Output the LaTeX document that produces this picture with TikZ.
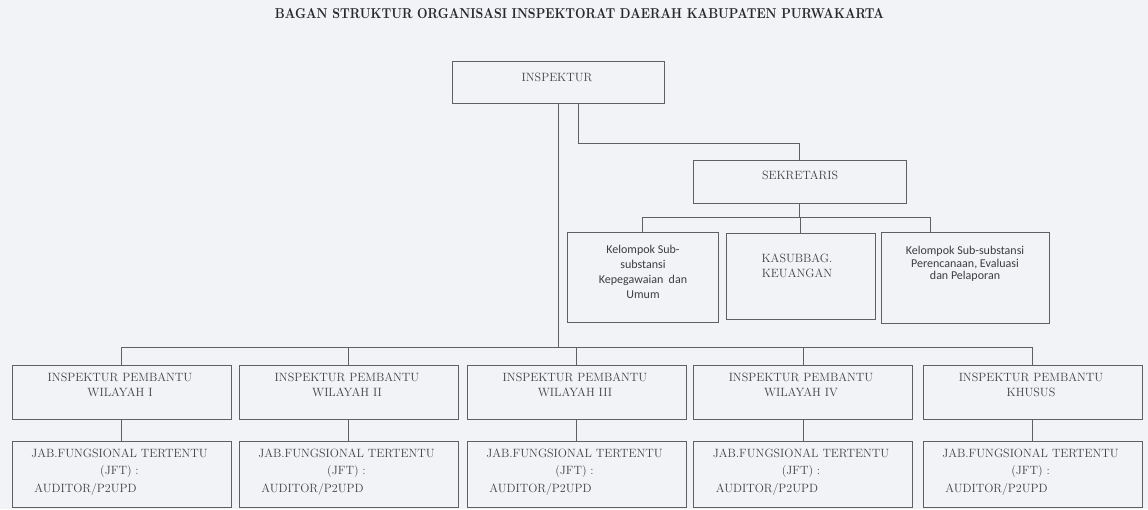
\documentclass[tikz,border=0pt]{standalone}
\usepackage{fontspec}
\usepackage{calc}
\usepackage{graphicx}
\newfontfamily\calib{Carlito}
\definecolor{bg}{RGB}{242,243,247}
\definecolor{ln}{RGB}{95,95,100}
\definecolor{tx}{RGB}{65,65,70}
\definecolor{tk}{RGB}{60,60,65}
\definecolor{tt}{RGB}{40,40,45}
\tikzset{
  box/.style={draw=ln, line width=0.9pt, fill=bg, inner sep=0pt, anchor=center},
  conn/.style={draw=ln, line width=0.9pt},
  lbl/.style={text=tx, font=\fontsize{12}{15}\selectfont, align=center, inner sep=0pt},
  lblj/.style={text=tx, font=\fontsize{12}{17.5}\selectfont, align=center, inner sep=0pt},
  lblk/.style={text=tk, font=\calib\fontsize{12}{15}\selectfont, align=center, inner sep=0pt},
  rowa/.style={box, minimum width=219pt, minimum height=54pt},
  rowb/.style={box, minimum width=219pt, minimum height=66pt}
}
\newcommand{\jftlabel}{JAB.FUNGSIONAL TERTENTU\\(JFT) :\\\makebox[\widthof{JAB.FUNGSIONAL TERTENTU}][l]{\hspace{3pt}AUDITOR/P2UPD}}
\begin{document}
\begin{tikzpicture}[x=1pt, y=-1pt]
\fill[bg] (0,0) rectangle (1148,509);
\useasboundingbox (0,0) rectangle (1148,509);

% title
\node[anchor=base, inner sep=0pt, text=tt] (title) at (579.5,18)
  {\resizebox{609pt}{10pt}{\bfseries BAGAN STRUKTUR ORGANISASI INSPEKTORAT DAERAH KABUPATEN PURWAKARTA}};

% top boxes
\node[box, minimum width=212pt, minimum height=42pt] (insp) at (558,82) {};
\node[lbl] (tinsp) at (557,77) {INSPEKTUR};
\node[box, minimum width=213pt, minimum height=43pt] (sek) at (799.5,181.5) {};
\node[lbl] (tsek) at (800,175) {SEKRETARIS};

% sub boxes
\node[box, minimum width=151pt, minimum height=90pt] (k1) at (642.5,277) {};
\node[lblk] (tk1) at (643,272) {Kelompok Sub-\\substansi\\Kepegawaian \ dan\\Umum};
\node[box, minimum width=149pt, minimum height=86pt] (k2) at (800.5,276) {};
\node[lbl] (tk2) at (797,265.5) {KASUBBAG.\\KEUANGAN};
\node[box, minimum width=168pt, minimum height=91pt] (k3) at (965,277.5) {};
\node[lblk, font=\calib\fontsize{12}{12.5}\selectfont] (tk3) at (965,264) {Kelompok Sub-substansi\\Perencanaan, Evaluasi\\dan Pelaporan};

% row 1
\node[rowa] (p1) at (121.5,392) {};
\node[rowa] (p2) at (348.5,392) {};
\node[rowa] (p3) at (576.5,392) {};
\node[rowa] (p4) at (803,392) {};
\node[rowa] (p5) at (1032.5,392) {};
\node[lbl] (tp1) at (120,385) {INSPEKTUR PEMBANTU\\WILAYAH I};
\node[lbl] (tp2) at (347,385) {INSPEKTUR PEMBANTU\\WILAYAH II};
\node[lbl] (tp3) at (575,385) {INSPEKTUR PEMBANTU\\WILAYAH III};
\node[lbl] (tp4) at (801,385) {INSPEKTUR PEMBANTU\\WILAYAH IV};
\node[lbl] (tp5) at (1031,385) {INSPEKTUR PEMBANTU\\KHUSUS};

% row 2
\node[rowb] (j1) at (121.5,474) {};
\node[rowb] (j2) at (348.5,474) {};
\node[rowb] (j3) at (576.5,474) {};
\node[rowb] (j4) at (803,474) {};
\node[rowb] (j5) at (1032.5,474) {};
\node[lblj] (tj1) at (119.5,472) {\jftlabel};
\node[lblj] (tj2) at (346.5,472) {\jftlabel};
\node[lblj] (tj3) at (574.5,472) {\jftlabel};
\node[lblj] (tj4) at (801,472) {\jftlabel};
\node[lblj] (tj5) at (1030.5,472) {\jftlabel};

% connector coordinates
\coordinate (bus) at (0,347);
\coordinate (sj) at (0,143);
\coordinate (subbus) at (0,217);

% INSPEKTUR -> bus
\draw[conn] (insp.south) -- (insp.south |- bus);
\draw[conn] (p1.north) |- (p5.north |- bus) -- (p5.north);
\foreach \n in {p2,p3,p4} \draw[conn] (\n.north) -- (\n.north |- bus);

% INSPEKTUR -> SEKRETARIS
\draw[conn] ([xshift=20pt]insp.south) |- (sek.north |- sj) -- (sek.north);

% SEKRETARIS -> sub boxes
\draw[conn] (sek.south) -- (sek.south |- subbus);
\draw[conn] (k1.north) |- ([xshift=-35pt]k3.north |- subbus) -- ([xshift=-35pt]k3.north);
\draw[conn] (k2.north) -- (k2.north |- subbus);

% row 1 -> row 2
\foreach \i in {1,...,5} \draw[conn] (p\i.south) -- (j\i.north);
\end{tikzpicture}
\end{document}
